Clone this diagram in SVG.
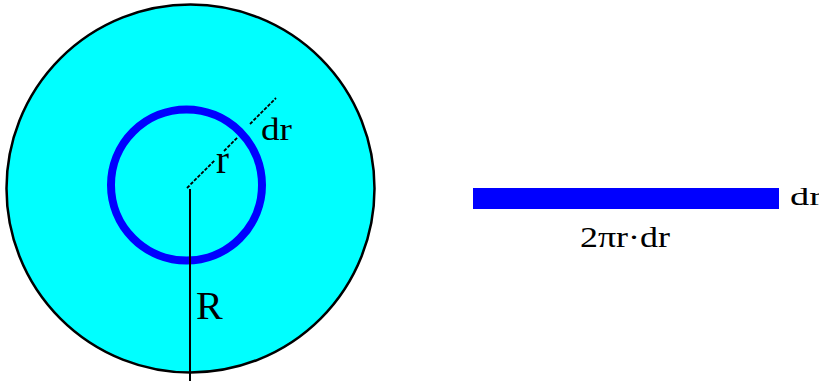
<svg xmlns="http://www.w3.org/2000/svg" width="819" height="381" viewBox="0 0 819 381">
<style>
.lbl{font-family:"Liberation Serif","Times New Roman",serif;fill:#000}
.dash{stroke:#000;stroke-width:1.8;stroke-dasharray:3.5 1.5;fill:none}
</style>
<rect width="819" height="381" fill="#fff"/>
<g id="disk">
<circle cx="190.5" cy="188.5" r="184" fill="#00FFFF" stroke="#000" stroke-width="2.5"/>
</g>
<g id="ring">
<circle cx="186.5" cy="185" r="75.5" fill="none" stroke="#0000FF" stroke-width="8"/>
</g>
<g id="connectors">
<line x1="190" y1="189" x2="190" y2="381" stroke="#000" stroke-width="2"/>
<line class="dash" x1="187" y1="188" x2="215" y2="160"/>
<line class="dash" x1="224" y1="151" x2="238" y2="137"/>
<line class="dash" x1="250" y1="124" x2="276" y2="98"/>
</g>
<g id="labels-circle">
<text class="lbl" x="216" y="173" font-size="39">r</text>
<text class="lbl" x="261" y="140" font-size="31" textLength="31" lengthAdjust="spacingAndGlyphs">dr</text>
<text class="lbl" x="196" y="319" font-size="40">R</text>
</g>
<g id="strip">
<rect x="473" y="188" width="306" height="21" fill="#0000FF"/>
<text class="lbl" x="790" y="205" font-size="25" textLength="32" lengthAdjust="spacingAndGlyphs">dr</text>
<text class="lbl" x="580" y="247" font-size="30" textLength="90" lengthAdjust="spacingAndGlyphs">2πr·dr</text>
</g>
</svg>
